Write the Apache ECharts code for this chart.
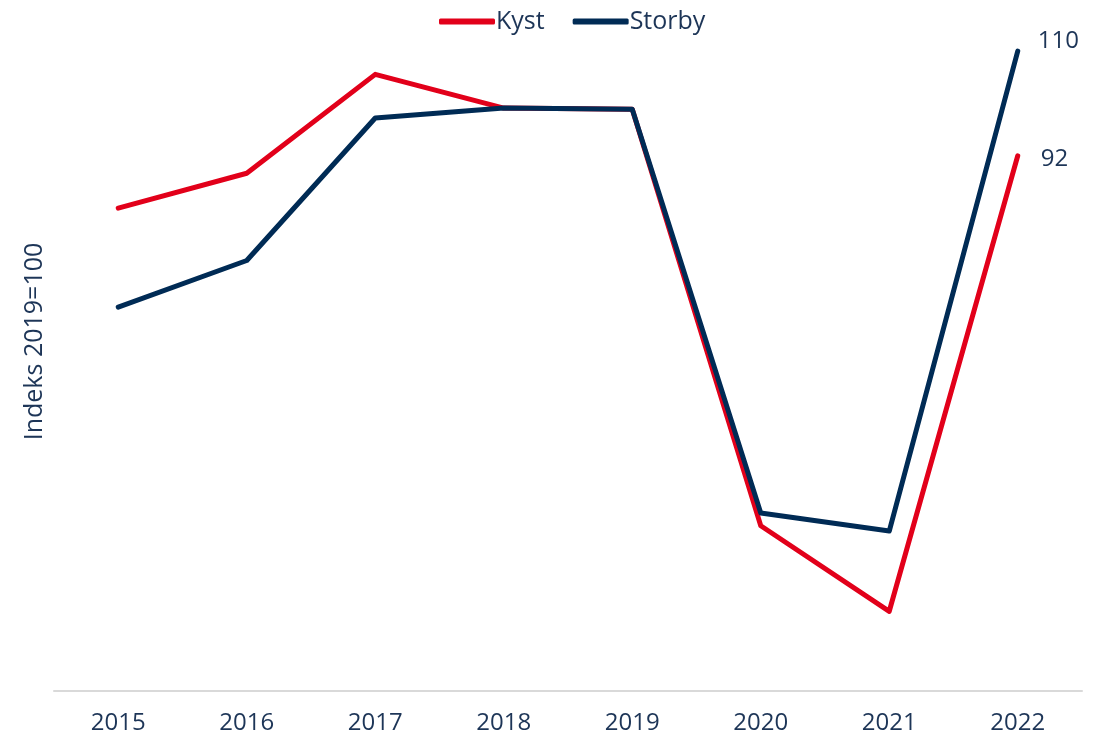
<!DOCTYPE html>
<html>
<head>
<meta charset="utf-8">
<script src="https://cdn.jsdelivr.net/npm/echarts@6/dist/echarts.min.js"></script>
<style>
  html, body { margin: 0; padding: 0; background: #fff; }
  #chart { width: 1097px; height: 735px; }
</style>
</head>
<body>
<div id="chart"></div>
<script>
  // indeks 2019=100
  var years = ['2015', '2016', '2017', '2018', '2019', '2020', '2021', '2022'];
  var kyst = [83, 89, 106, 100.2, 100, 28.4, 13.7, 92];
  var storby = [66, 74, 98.5, 100.2, 100, 30.6, 27.5, 110];

  var navy = '#002b55';
  var red = '#e2001a';
  var txt = '#1d3557';
  var font = 'Open Sans';

  var chart = echarts.init(document.getElementById('chart'));

  function endLabel(offsetX, offsetY) {
    return {
      show: true,
      distance: 20,
      offset: [offsetX, offsetY],
      color: txt,
      fontFamily: font,
      fontSize: 24,
      formatter: function (p) {
        return Math.round(p.value);
      }
    };
  }

  var option = {
    animation: false,
    textStyle: { fontFamily: font },
    legend: {
      top: 4,
      left: 434,
      itemWidth: 56,
      itemHeight: 6,
      itemGap: 28,
      icon: 'roundRect',
      textStyle: { color: txt, fontSize: 25, fontFamily: font, padding: [0, 0, 0, -4] },
      data: ['Kyst', 'Storby']
    },
    grid: { left: 54, right: 15, top: 22, bottom: 43, containLabel: false },
    xAxis: {
      type: 'category',
      data: years,
      boundaryGap: true,
      axisLine: { lineStyle: { color: '#d9d9d9', width: 2 } },
      axisTick: { show: false },
      axisLabel: { color: txt, fontSize: 24, fontFamily: font, margin: 20 }
    },
    yAxis: {
      type: 'value',
      min: 0,
      max: 115,
      name: 'Indeks 2019=100',
      nameLocation: 'middle',
      nameGap: 7,
      nameTextStyle: { color: txt, fontSize: 25, fontFamily: font, padding: [0, 0, 0, 30] },
      axisLine: { show: false },
      axisTick: { show: false },
      axisLabel: { show: false },
      splitLine: { show: false }
    },
    series: [
      {
        name: 'Kyst',
        type: 'line',
        data: kyst,
        showSymbol: false,
        symbol: 'none',
        itemStyle: { color: red },
        lineStyle: { color: red, width: 5, cap: 'round', join: 'round' },
        endLabel: endLabel(3, 3)
      },
      {
        name: 'Storby',
        type: 'line',
        data: storby,
        showSymbol: false,
        symbol: 'none',
        itemStyle: { color: navy },
        lineStyle: { color: navy, width: 5, cap: 'round', join: 'round' },
        endLabel: endLabel(0, -10)
      }
    ]
  };

  chart.setOption(option);
</script>
</body>
</html>
